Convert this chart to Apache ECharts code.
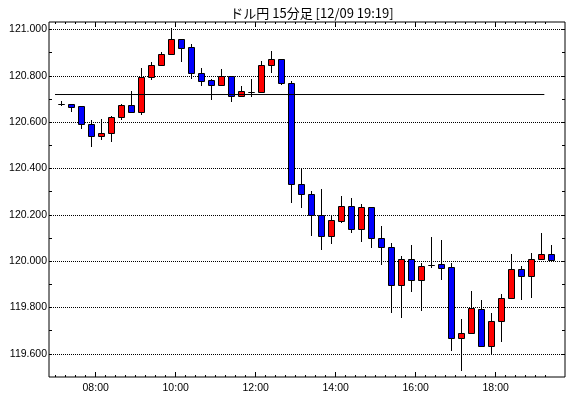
<!DOCTYPE html>
<html>
<head>
<meta charset="utf-8">
<script src="https://cdn.jsdelivr.net/npm/echarts@6/dist/echarts.min.js"></script>
<style>
html, body { margin: 0; padding: 0; background: #fff; }
#chart { width: 570px; height: 398px; }
</style>
</head>
<body>
<div id="chart"></div>
<script>
// 15分足 ドル円
var times = ['07:00','07:15','07:30','07:45','08:00','08:15','08:30','08:45','09:00','09:15',
	'09:30','09:45','10:00','10:15','10:30','10:45','11:00','11:15','11:30','11:45',
	'12:00','12:15','12:30','12:45','13:00','13:15','13:30','13:45','14:00','14:15',
	'14:30','14:45','15:00','15:15','15:30','15:45','16:00','16:15','16:30','16:45',
	'17:00','17:15','17:30','17:45','18:00','18:15','18:30','18:45','19:00','19:15'];
var opens = [120.680,120.680,120.668,120.590,120.541,120.551,120.620,120.672,120.642,120.793,
	120.845,120.892,120.957,120.922,120.814,120.780,120.761,120.797,120.714,120.732,
	120.732,120.845,120.872,120.767,120.331,120.288,120.198,120.109,120.175,120.240,
	120.137,120.232,120.098,120.059,119.895,120.011,119.917,119.984,119.986,119.973,
	119.670,119.692,119.793,119.632,119.740,119.839,119.964,119.934,120.011,120.029];
var closes = [120.680,120.665,120.590,120.541,120.551,120.620,120.672,120.642,120.793,120.845,
	120.892,120.957,120.921,120.814,120.778,120.761,120.797,120.714,120.734,120.732,
	120.845,120.872,120.767,120.331,120.288,120.198,120.109,120.176,120.240,120.137,
	120.232,120.098,120.059,119.895,120.011,119.917,119.977,119.982,119.971,119.670,
	119.692,119.796,119.632,119.740,119.839,119.964,119.934,120.011,120.029,120.003];
var highs = [120.690,120.680,120.668,120.609,120.613,120.626,120.680,120.734,120.832,120.859,
	120.901,121.005,120.957,120.937,120.832,120.785,120.829,120.797,120.755,120.785,
	120.863,120.906,120.872,120.777,120.400,120.303,120.311,120.198,120.281,120.272,
	120.246,120.232,120.151,120.080,120.021,120.069,119.990,120.105,120.090,119.990,
	119.749,119.871,119.832,119.777,119.857,120.029,119.978,120.033,120.121,120.069];
var lows = [120.670,120.645,120.571,120.493,120.522,120.515,120.611,120.640,120.632,120.781,
	120.845,120.892,120.860,120.787,120.757,120.696,120.761,120.688,120.714,120.709,
	120.732,120.814,120.761,120.252,120.230,120.109,120.047,120.076,120.165,120.122,
	120.083,120.057,119.984,119.777,119.755,119.867,119.786,119.971,119.918,119.613,
	119.527,119.692,119.632,119.593,119.652,119.839,119.834,119.841,120.004,120.003];
var prevClose = 120.719;
var yLabels = [119.6, 119.8, 120.0, 120.2, 120.4, 120.6, 120.8, 121.0];
var xLabels = ['08:00', '10:00', '12:00', '14:00', '16:00', '18:00'];

function toMin(s) {
	var p = s.split(':');
	return +p[0] * 60 + +p[1];
}

var candles = times.map(function (t, i) {
	return [toMin(t) + 7.5, opens[i], closes[i], lows[i], highs[i]];
});
var majorX = xLabels.map(toMin);
var minorX = times.map(toMin);
var tenthY = [];
for (var k = 1196; k <= 1210; k++) tenthY.push(k / 10);

function renderCandle(params, api) {
	var t = api.value(0);
	var pO = api.coord([t, api.value(1)]);
	var pC = api.coord([t, api.value(2)]);
	var pL = api.coord([t, api.value(3)]);
	var pH = api.coord([t, api.value(4)]);
	var x = Math.round(pO[0]) + 0.5;
	var top = Math.round(Math.min(pO[1], pC[1])) + 0.5;
	var bot = Math.round(Math.max(pO[1], pC[1])) + 0.5;
	var up = api.value(2) >= api.value(1);
	return {
		type: 'group',
		children: [
			{ type: 'line', shape: { x1: x, y1: Math.round(pH[1]), x2: x, y2: Math.round(pL[1]) }, style: { stroke: '#000', lineWidth: 1 } },
			{ type: 'rect', shape: { x: x - 3, y: top, width: 6, height: bot - top }, style: { fill: up ? '#ff0000' : '#0000ff', stroke: '#000', lineWidth: 1 } }
		]
	};
}

var font = 'Liberation Sans, Arial, sans-serif';
function xAxisDef(pos, ticks, len, labels) {
	return {
		type: 'value', position: pos, min: 410, max: 1184,
		axisLine: { show: false },
		axisTick: { show: true, inside: true, length: len, customValues: ticks, lineStyle: { color: '#000', width: 1 } },
		axisLabel: labels ? {
			show: true, customValues: majorX, color: '#000', fontFamily: font, fontSize: 10.5, margin: 6,
			formatter: function (v) {
				var h = Math.floor(v / 60), m = v % 60;
				return (h < 10 ? '0' : '') + h + ':' + (m < 10 ? '0' : '') + m;
			}
		} : { show: false },
		splitLine: { show: false }
	};
}
function yAxisDef(pos, ticks, main) {
	return {
		type: 'value', position: pos, min: 119.5, max: 121.032,
		axisLine: { show: false },
		axisTick: { show: true, inside: true, length: 3, customValues: ticks, lineStyle: { color: '#000', width: 1 } },
		axisLabel: main ? {
			show: true, customValues: yLabels, color: '#000', fontFamily: font, fontSize: 10.5, margin: 2,
			formatter: function (v) { return v.toFixed(3); }
		} : { show: false },
		splitLine: main ? { show: true, lineStyle: { color: '#000', type: [1, 1], width: 1 } } : { show: false }
	};
}

var chart = echarts.init(document.getElementById('chart'), null, { renderer: 'canvas' });
chart.setOption({
	backgroundColor: '#fff',
	animation: false,
	title: {
		text: 'ドル円 15分足 [12/09 19:19]',
		left: 307, top: 2, textAlign: 'center',
		textStyle: { color: '#000', fontSize: 13, fontWeight: 'normal', fontFamily: 'Noto Sans CJK JP, sans-serif' }
	},
	grid: { left: 49, top: 22, width: 516, height: 355, show: true, borderColor: '#000', borderWidth: 1, backgroundColor: 'transparent' },
	xAxis: [
		xAxisDef('bottom', majorX, 5, true),
		xAxisDef('bottom', minorX, 2, false),
		xAxisDef('top', majorX, 5, false),
		xAxisDef('top', minorX, 2, false)
	],
	yAxis: [
		yAxisDef('left', yLabels, true),
		yAxisDef('left', tenthY, false),
		yAxisDef('right', tenthY, false)
	],
	series: [
		{
			type: 'line', xAxisIndex: 0, yAxisIndex: 0,
			data: [[419, prevClose], [1153, prevClose]],
			symbol: 'none', lineStyle: { color: '#000', width: 1 }, silent: true
		},
		{
			type: 'custom', xAxisIndex: 0, yAxisIndex: 0,
			renderItem: renderCandle,
			data: candles,
			encode: { x: 0, y: [1, 2, 3, 4] }
		}
	]
});
</script>
</body>
</html>
